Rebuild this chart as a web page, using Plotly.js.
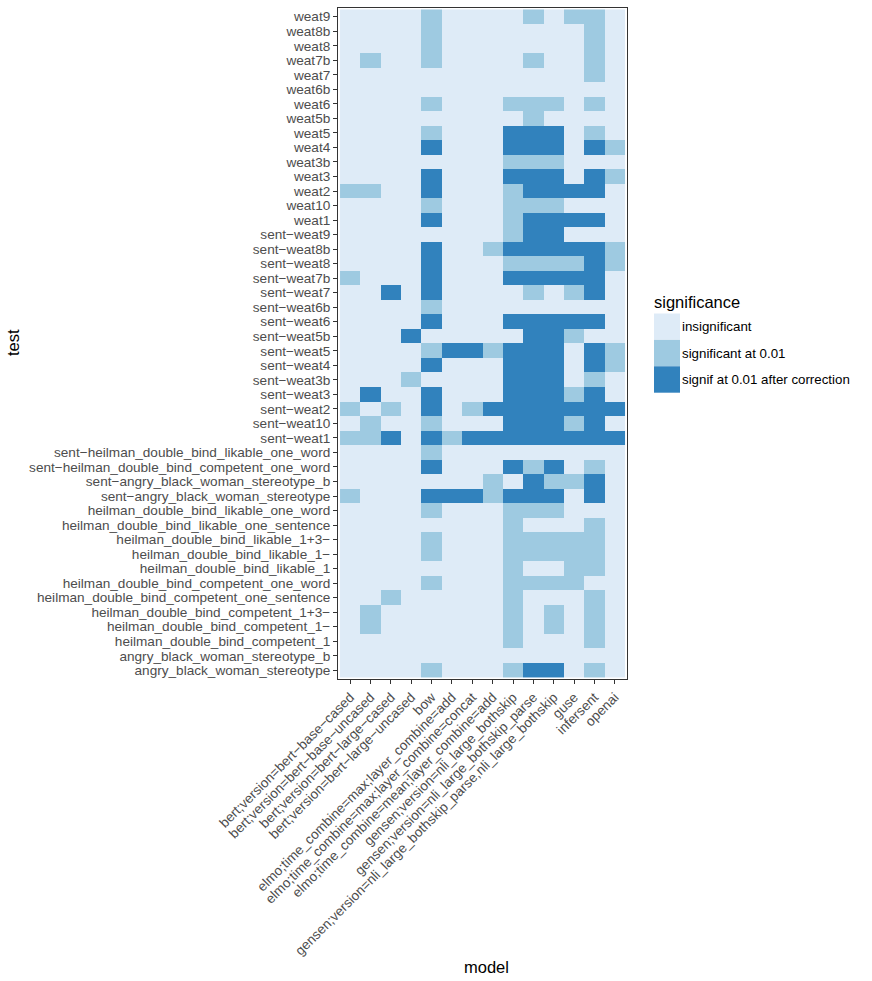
<!DOCTYPE html>
<html>
<head>
<meta charset="utf-8">
<script src="https://cdn.plot.ly/plotly-3.0.1.min.js"></script>
<style>html,body{margin:0;padding:0;background:#fff;}</style>
</head>
<body>
<div id="chart" style="width:872px;height:981px;"></div>
<script>
// Models (x categories)
const models = [
  "bert;version=bert\u2212base\u2212cased",
  "bert;version=bert\u2212base\u2212uncased",
  "bert;version=bert\u2212large\u2212cased",
  "bert;version=bert\u2212large\u2212uncased",
  "bow",
  "elmo;time_combine=max;layer_combine=add",
  "elmo;time_combine=max;layer_combine=concat",
  "elmo;time_combine=mean;layer_combine=add",
  "gensen;version=nli_large_bothskip",
  "gensen;version=nli_large_bothskip_parse",
  "gensen;version=nli_large_bothskip_parse,nli_large_bothskip",
  "guse",
  "infersent",
  "openai"
];

// Tests (y categories), top to bottom
const tests = [
  "weat9","weat8b","weat8","weat7b","weat7","weat6b","weat6","weat5b","weat5","weat4",
  "weat3b","weat3","weat2","weat10","weat1",
  "sent\u2212weat9","sent\u2212weat8b","sent\u2212weat8","sent\u2212weat7b","sent\u2212weat7",
  "sent\u2212weat6b","sent\u2212weat6","sent\u2212weat5b","sent\u2212weat5","sent\u2212weat4",
  "sent\u2212weat3b","sent\u2212weat3","sent\u2212weat2","sent\u2212weat10","sent\u2212weat1",
  "sent\u2212heilman_double_bind_likable_one_word",
  "sent\u2212heilman_double_bind_competent_one_word",
  "sent\u2212angry_black_woman_stereotype_b",
  "sent\u2212angry_black_woman_stereotype",
  "heilman_double_bind_likable_one_word",
  "heilman_double_bind_likable_one_sentence",
  "heilman_double_bind_likable_1+3\u2212",
  "heilman_double_bind_likable_1\u2212",
  "heilman_double_bind_likable_1",
  "heilman_double_bind_competent_one_word",
  "heilman_double_bind_competent_one_sentence",
  "heilman_double_bind_competent_1+3\u2212",
  "heilman_double_bind_competent_1\u2212",
  "heilman_double_bind_competent_1",
  "angry_black_woman_stereotype_b",
  "angry_black_woman_stereotype"
];

// Significance levels
const levels = ["insignificant", "significant at 0.01", "signif at 0.01 after correction"];
const levelColors = ["#deebf7", "#9ecae1", "#3182bd"];

// Significance codes per test (row) and model (column): 0,1,2 index into levels
const significance = [
  [0,0,0,0,1,0,0,0,0,1,0,1,1,0], // weat9
  [0,0,0,0,1,0,0,0,0,0,0,0,1,0], // weat8b
  [0,0,0,0,1,0,0,0,0,0,0,0,1,0], // weat8
  [0,1,0,0,1,0,0,0,0,1,0,0,1,0], // weat7b
  [0,0,0,0,0,0,0,0,0,0,0,0,1,0], // weat7
  [0,0,0,0,0,0,0,0,0,0,0,0,0,0], // weat6b
  [0,0,0,0,1,0,0,0,1,1,1,0,1,0], // weat6
  [0,0,0,0,0,0,0,0,0,1,0,0,0,0], // weat5b
  [0,0,0,0,1,0,0,0,2,2,2,0,1,0], // weat5
  [0,0,0,0,2,0,0,0,2,2,2,0,2,1], // weat4
  [0,0,0,0,0,0,0,0,1,1,1,0,0,0], // weat3b
  [0,0,0,0,2,0,0,0,2,2,2,0,2,1], // weat3
  [1,1,0,0,2,0,0,0,1,2,2,2,2,0], // weat2
  [0,0,0,0,1,0,0,0,1,1,1,0,0,0], // weat10
  [0,0,0,0,2,0,0,0,1,2,2,2,2,0], // weat1
  [0,0,0,0,0,0,0,0,1,2,2,0,0,0], // sent-weat9
  [0,0,0,0,2,0,0,1,2,2,2,2,2,1], // sent-weat8b
  [0,0,0,0,2,0,0,0,1,1,1,1,2,1], // sent-weat8
  [1,0,0,0,2,0,0,0,2,2,2,2,2,0], // sent-weat7b
  [0,0,2,0,2,0,0,0,0,1,0,1,2,0], // sent-weat7
  [0,0,0,0,1,0,0,0,0,0,0,0,0,0], // sent-weat6b
  [0,0,0,0,2,0,0,0,2,2,2,2,2,0], // sent-weat6
  [0,0,0,2,0,0,0,0,0,2,2,1,0,0], // sent-weat5b
  [0,0,0,0,1,2,2,1,2,2,2,0,2,1], // sent-weat5
  [0,0,0,0,2,0,0,0,2,2,2,0,2,1], // sent-weat4
  [0,0,0,1,0,0,0,0,2,2,2,0,1,0], // sent-weat3b
  [0,2,0,0,2,0,0,0,2,2,2,1,2,0], // sent-weat3
  [1,0,1,0,2,0,1,2,2,2,2,2,2,2], // sent-weat2
  [0,1,0,0,1,0,0,0,2,2,2,1,2,0], // sent-weat10
  [1,1,2,0,2,1,2,2,2,2,2,2,2,2], // sent-weat1
  [0,0,0,0,1,0,0,0,0,0,0,0,0,0], // sent-heilman likable one word
  [0,0,0,0,2,0,0,0,2,1,2,0,1,0], // sent-heilman competent one word
  [0,0,0,0,0,0,0,1,0,2,1,1,2,0], // sent-angry_b
  [1,0,0,0,2,2,2,1,2,2,2,0,2,0], // sent-angry
  [0,0,0,0,1,0,0,0,1,1,1,0,0,0], // likable one word
  [0,0,0,0,0,0,0,0,1,0,0,0,1,0], // likable one sentence
  [0,0,0,0,1,0,0,0,1,1,1,1,1,0], // likable 1+3-
  [0,0,0,0,1,0,0,0,1,1,1,1,1,0], // likable 1-
  [0,0,0,0,0,0,0,0,1,0,0,1,1,0], // likable 1
  [0,0,0,0,1,0,0,0,1,1,1,1,0,0], // competent one word
  [0,0,1,0,0,0,0,0,1,0,0,0,1,0], // competent one sentence
  [0,1,0,0,0,0,0,0,1,0,1,0,1,0], // competent 1+3-
  [0,1,0,0,0,0,0,0,1,0,1,0,1,0], // competent 1-
  [0,0,0,0,0,0,0,0,1,0,0,0,1,0], // competent 1
  [0,0,0,0,0,0,0,0,0,0,0,0,0,0], // angry_b
  [0,0,0,0,1,0,0,0,1,2,2,0,1,0]  // angry
];

const FONT = "Liberation Sans, Arial, Helvetica, sans-serif";
const TICK = 13.6, TITLE = 16.5, LEG = 13.3;

const heat = {
  type: "heatmap",
  x: models,
  y: tests,
  z: significance,
  zmin: -0.5, zmax: 2.5,
  colorscale: [
    [0, levelColors[0]], [1/3, levelColors[0]],
    [1/3, levelColors[1]], [2/3, levelColors[1]],
    [2/3, levelColors[2]], [1, levelColors[2]]
  ],
  showscale: false,
  xgap: 0, ygap: 0,
  text: significance.map(r => r.map(v => levels[v])),
  hovertemplate: "%{y}<br>%{x}<br>%{text}<extra></extra>"
};

// Legend (drawn in paper space)
const legX0 = 654, legW = 26, legY0 = 313.5, legH = 26.4;
const plotL = 338, plotR = 627, plotT = 8, plotB = 679;
const W = 872, H = 981;
const px = v => (v - plotL) / (plotR - plotL);
const py = v => 1 - (v - plotT) / (plotB - plotT);

const shapes = [];
const annotations = [];
levels.forEach((lab, i) => {
  shapes.push({
    type: "rect", xref: "paper", yref: "paper",
    x0: px(legX0), x1: px(legX0 + legW),
    y0: py(legY0 + legH * (i + 1)), y1: py(legY0 + legH * i),
    fillcolor: levelColors[i], line: {width: 0}
  });
  annotations.push({
    xref: "paper", yref: "paper", x: px(legX0 + legW + 0), y: py(legY0 + legH * (i + 0.5)),
    xanchor: "left", yanchor: "middle", showarrow: false,
    text: lab, font: {family: FONT, size: LEG, color: "#000"}
  });
});
annotations.push({
  xref: "paper", yref: "paper", x: px(legX0 - 2), y: py(302),
  xanchor: "left", yanchor: "middle", showarrow: false,
  text: "significance", font: {family: FONT, size: TITLE, color: "#000"}
});
annotations.push({
  xref: "paper", yref: "paper", x: px(486), y: py(967),
  xanchor: "center", yanchor: "middle", showarrow: false,
  text: "model", font: {family: FONT, size: TITLE, color: "#000"}
});
annotations.push({
  xref: "paper", yref: "paper", x: px(13), y: py(343),
  xanchor: "center", yanchor: "middle", showarrow: false, textangle: -90,
  text: "test", font: {family: FONT, size: TITLE, color: "#000"}
});

const layout = {
  width: W, height: H,
  margin: {l: plotL, r: W - plotR, t: plotT, b: H - plotB, pad: 0},
  paper_bgcolor: "#fff", plot_bgcolor: "#fff",
  font: {family: FONT, size: TICK, color: "#4d4d4d"},
  showlegend: false,
  xaxis: {
    type: "category", range: [-0.6, models.length - 0.4],
    tickmode: "array", tickvals: models, ticktext: models,
    tickangle: -45, ticks: "outside", ticklen: 4, tickwidth: 1, tickcolor: "#333",
    showline: true, mirror: true, linecolor: "#333", linewidth: 1,
    showgrid: false, zeroline: false, automargin: false,
    tickfont: {family: FONT, size: TICK, color: "#4d4d4d"}
  },
  yaxis: {
    type: "category", range: [tests.length - 0.4, -0.6],
    tickmode: "array", tickvals: tests, ticktext: tests,
    ticks: "outside", ticklen: 4, tickwidth: 1, tickcolor: "#333",
    ticklabelstandoff: 0,
    showline: true, mirror: true, linecolor: "#333", linewidth: 1,
    showgrid: false, zeroline: false, automargin: false,
    tickfont: {family: FONT, size: TICK, color: "#4d4d4d"}
  },
  shapes: shapes,
  annotations: annotations
};

Plotly.newPlot("chart", [heat], layout, {displayModeBar: false, staticPlot: true});
</script>
</body>
</html>
